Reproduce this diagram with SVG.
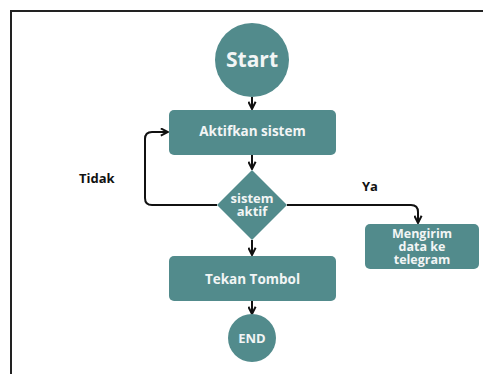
<svg xmlns="http://www.w3.org/2000/svg" width="483" height="374" viewBox="0 0 483 374">
<style>
.n{fill:#528b8c}
.t{font-family:"Open Sans","Liberation Sans",sans-serif;font-weight:700;fill:#f2f5f5;text-anchor:middle}
.l{font-family:"Open Sans","Liberation Sans",sans-serif;font-weight:700;fill:#111}
.c{fill:none;stroke:#111;stroke-width:2}
</style>
<defs>
<marker id="a" viewBox="0 0 10 10" refX="9" refY="5" markerWidth="4.5" markerHeight="4.5" orient="auto" markerUnits="strokeWidth">
<path d="M1,1 L9,5 L1,9" fill="none" stroke="#111" stroke-width="2.2"/>
</marker>
</defs>
<rect width="483" height="374" fill="#fff"/>
<path d="M11,374 V11 H483" fill="none" stroke="#222" stroke-width="2"/>
<g id="connectors">
<path class="c" d="M252,97 V109" marker-end="url(#a)"/>
<path class="c" d="M252,155 V169" marker-end="url(#a)"/>
<path class="c" d="M217,205 H152 Q145,205 145,198 V139 Q145,132 152,132 H168" marker-end="url(#a)"/>
<path class="c" d="M287,205 H411 Q418,205 418,212 V223" marker-end="url(#a)"/>
<path class="c" d="M252,240 V255" marker-end="url(#a)"/>
<path class="c" d="M252,301 V314" marker-end="url(#a)"/>
</g>
<g id="start"><circle class="n" cx="252" cy="60" r="37"/><text class="t" x="252" y="67" font-size="21">Start</text></g>
<g id="aktifkan"><rect class="n" x="169" y="110" width="167" height="45" rx="5"/><text class="t" x="252.5" y="136" font-size="13.5">Aktifkan sistem</text></g>
<g id="decision"><polygon class="n" points="252,170 287,205 252,240 217,205"/><text class="t" font-size="13"><tspan x="252" y="203">sistem</tspan><tspan x="252" y="216">aktif</tspan></text></g>
<g id="kirim"><rect class="n" x="365" y="224" width="114" height="45" rx="5"/><text class="t" font-size="12.5"><tspan x="422" y="238">Mengirim</tspan><tspan x="422" y="251">data ke</tspan><tspan x="422" y="264">telegram</tspan></text></g>
<g id="tekan"><rect class="n" x="169" y="256" width="167" height="45" rx="5"/><text class="t" x="252.5" y="284" font-size="13.5">Tekan Tombol</text></g>
<g id="end"><circle class="n" cx="252" cy="338" r="24"/><text class="t" x="252" y="343" font-size="13">END</text></g>
<text class="l" x="79" y="183" font-size="13">Tidak</text>
<text class="l" x="362" y="191" font-size="13">Ya</text>
</svg>
